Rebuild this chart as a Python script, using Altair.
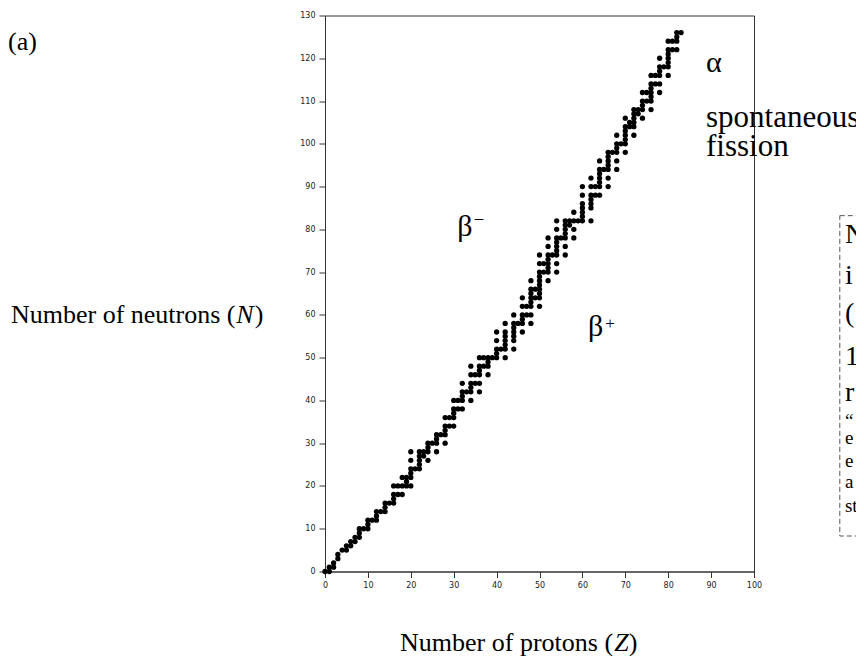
import altair as alt
import pandas as pd

# Stable (and primordial) nuclides: proton number Z -> mass numbers A
stable_mass_numbers = {
    1: [1, 2], 2: [3, 4], 3: [6, 7], 4: [9], 5: [10, 11], 6: [12, 13], 7: [14, 15],
    8: [16, 17, 18], 9: [19], 10: [20, 21, 22], 11: [23], 12: [24, 25, 26], 13: [27],
    14: [28, 29, 30], 15: [31], 16: [32, 33, 34, 36], 17: [35, 37], 18: [36, 38, 40],
    19: [39, 40, 41], 20: [40, 42, 43, 44, 46, 48], 21: [45], 22: [46, 47, 48, 49, 50],
    23: [50, 51], 24: [50, 52, 53, 54], 25: [55], 26: [54, 56, 57, 58], 27: [59],
    28: [58, 60, 61, 62, 64], 29: [63, 65], 30: [64, 66, 67, 68, 70], 31: [69, 71],
    32: [70, 72, 73, 74, 76], 33: [75], 34: [74, 76, 77, 78, 80, 82], 35: [79, 81],
    36: [78, 80, 82, 83, 84, 86], 37: [85, 87], 38: [84, 86, 87, 88], 39: [89],
    40: [90, 91, 92, 94, 96], 41: [93], 42: [92, 94, 95, 96, 97, 98, 100],
    44: [96, 98, 99, 100, 101, 102, 104], 45: [103], 46: [102, 104, 105, 106, 108, 110],
    47: [107, 109], 48: [106, 108, 110, 111, 112, 113, 114, 116], 49: [113, 115],
    50: [112, 114, 115, 116, 117, 118, 119, 120, 122, 124], 51: [121, 123],
    52: [120, 122, 123, 124, 125, 126, 128, 130], 53: [127],
    54: [124, 126, 128, 129, 130, 131, 132, 134, 136], 55: [133],
    56: [130, 132, 134, 135, 136, 137, 138], 57: [138, 139], 58: [136, 138, 140, 142],
    59: [141], 60: [142, 143, 144, 145, 146, 148, 150], 62: [144, 147, 148, 149, 150, 152, 154],
    63: [151, 153], 64: [152, 154, 155, 156, 157, 158, 160], 65: [159],
    66: [156, 158, 160, 161, 162, 163, 164], 67: [165], 68: [162, 164, 166, 167, 168, 170],
    69: [169], 70: [168, 170, 171, 172, 173, 174, 176], 71: [175, 176],
    72: [174, 176, 177, 178, 179, 180], 73: [180, 181], 74: [180, 182, 183, 184, 186],
    75: [185, 187], 76: [184, 186, 187, 188, 189, 190, 192], 77: [191, 193],
    78: [190, 192, 194, 195, 196, 198], 79: [197], 80: [196, 198, 199, 200, 201, 202, 204],
    81: [203, 205], 82: [204, 206, 207, 208], 83: [209],
}
# extra point read at the origin
extra_Z = [0]
extra_N = [0]

rows = [{"Z": z, "N": a - z} for z, masses in stable_mass_numbers.items() for a in masses]
rows += [{"Z": z, "N": n} for z, n in zip(extra_Z, extra_N)]
points = pd.DataFrame(rows)

x_ticks = list(range(0, 101, 10))
y_ticks = list(range(0, 131, 10))

xs = alt.Scale(domain=[0, 100], nice=False, zero=False)
ys = alt.Scale(domain=[0, 130], nice=False, zero=False)

SERIF = "Liberation Serif"

base = alt.Chart(points).mark_circle(size=28, color="black", opacity=1).encode(
    x=alt.X("Z:Q", scale=xs, axis=alt.Axis(values=x_ticks, title=None, grid=False,
            labelFont="DejaVu Sans", labelFontSize=8, labelColor="#222", tickSize=6,
            tickColor="#333", domainColor="#333", labelPadding=4, labelFlush=False)),
    y=alt.Y("N:Q", scale=ys, axis=alt.Axis(values=y_ticks, title=None, grid=False,
            labelFont="DejaVu Sans", labelFontSize=8, labelColor="#222", tickSize=6,
            tickColor="#333", domainColor="#333", labelPadding=4, labelFlush=False)),
)

# Annotation texts (data coordinates)
normal_text = pd.DataFrame({
    "t": ["(a)", "Number of neutrons (", ")", "Number of protons (", ")",
          "α", "spontaneous", "fission", "β", "β"],
    "Z": [-73.9, -73.2, -16.4, 17.5, 70.8, 88.8, 88.8, 88.8, 30.8, 61.3],
    "N": [122.0, 58.1, 58.1, -18.5, -18.5, 116.8, 104.0, 97.2, 78.5, 55.0],
    "fs": [26, 26, 26, 26, 26, 30, 31, 31, 30, 30],
})
italic_text = pd.DataFrame({
    "t": ["N", "Z"],
    "Z": [-20.7, 67.4],
    "N": [58.1, -18.5],
    "fs": [26, 26],
})
super_text = pd.DataFrame({
    "t": ["–", "+"],
    "Z": [34.9, 65.3],
    "N": [81.5, 56.8],
    "fs": [17, 17],
})
box_text = pd.DataFrame({
    "t": ["N", "i", "(", "1", "r", "“", "e", "e", "a", "st"],
    "Z": [121.2] * 10,
    "N": [76.9, 67.3, 58.4, 48.3, 39.9, 33.8, 29.9, 24.5, 19.6, 14.0],
    "fs": [28, 28, 28, 28, 28, 19, 19, 19, 19, 19],
})
box = pd.DataFrame({"Z1": [120.0], "Z2": [140.0], "N1": [8.3], "N2": [83.2]})


def text_layer(df, style="normal"):
    return alt.Chart(df).mark_text(align="left", baseline="alphabetic", font=SERIF,
                                   fontStyle=style, color="black").encode(
        x=alt.X("Z:Q", scale=xs), y=alt.Y("N:Q", scale=ys), text="t:N",
        size=alt.Size("fs:Q", scale=None, legend=None))


box_layer = alt.Chart(box).mark_rect(fill="white", fillOpacity=0, stroke="#555",
                                     strokeWidth=1, strokeDash=[5, 3]).encode(
    x=alt.X("Z1:Q", scale=xs), x2="Z2:Q", y=alt.Y("N1:Q", scale=ys), y2="N2:Q")

chart = alt.layer(
    base, box_layer,
    text_layer(normal_text), text_layer(italic_text, "italic"),
    text_layer(super_text), text_layer(box_text),
).properties(
    width=429, height=556,
    autosize=alt.AutoSizeParams(type="none"),
    padding={"left": 317, "top": 7.5, "right": 102, "bottom": 84.5},
).configure_view(stroke="#333", strokeWidth=1).configure_axis(domainWidth=1, tickWidth=1)

chart.save("out.html", embed_options={"renderer": "svg", "actions": False})
